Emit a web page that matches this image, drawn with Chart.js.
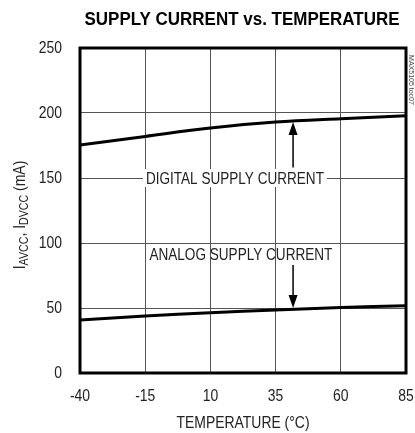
<!DOCTYPE html>
<html>
<head>
<meta charset="utf-8">
<script src="https://cdn.jsdelivr.net/npm/chart.js@4/dist/chart.umd.min.js"></script>
<style>
  html, body { margin: 0; padding: 0; background: #fff; }
  #wrap { width: 415px; height: 433px; }
</style>
</head>
<body>
<div id="wrap"><canvas id="chart" width="415" height="433"></canvas></div>
<script>
// Supply current vs temperature.
const temps = [-40, -15, 10, 35, 60, 85];
const digital = [175.4, 182, 188.4, 193, 195.6, 197.8];
const analog = [40.8, 43.8, 46.4, 48.5, 50.4, 51.8];
const xTicks = [-40, -15, 10, 35, 60, 85];
const yTicks = [0, 50, 100, 150, 200, 250];

const sans = "'Liberation Sans', Arial, sans-serif";
const SQ = 0.82; // horizontal squeeze to fake the condensed face

// draw text squeezed horizontally; width = target width if given
function narrowText(ctx, text, x, y, font, align, width) {
  ctx.save();
  ctx.font = font;
  const w = ctx.measureText(text).width;
  const k = width ? width / w : SQ;
  ctx.translate(x, y);
  ctx.scale(k, 1);
  ctx.textAlign = align;
  ctx.fillText(text, 0, 0);
  ctx.restore();
  return w * k;
}

const decor = {
  id: "decor",
  afterDraw(chart) {
    const { ctx, chartArea: a, scales: { x, y } } = chart;
    ctx.save();
    ctx.textBaseline = "middle";
    ctx.fillStyle = "#000";
    narrowText(ctx, "SUPPLY CURRENT vs. TEMPERATURE", 242, 20, `bold 19px ${sans}`, "center", 315);

    // plot frame
    ctx.lineWidth = 3;
    ctx.strokeStyle = "#000";
    ctx.strokeRect(a.left, a.top, a.right - a.left, a.bottom - a.top);

    // tick labels
    ctx.fillStyle = "#222";
    xTicks.forEach((v) => narrowText(ctx, String(v), x.getPixelForValue(v), 396, `17px ${sans}`, "center"));
    yTicks.forEach((v) => narrowText(ctx, String(v), 62, y.getPixelForValue(v), `17px ${sans}`, "right"));
    narrowText(ctx, "TEMPERATURE (°C)", 243, 423, `17px ${sans}`, "center");

    // curve labels + arrows
    const dx = x.getPixelForValue(19.4), dy = y.getPixelForValue(150);
    ctx.fillStyle = "#fff";
    ctx.fillRect(dx - 92, dy - 9, 184, 18);
    ctx.fillStyle = "#222";
    narrowText(ctx, "DIGITAL SUPPLY CURRENT", dx, dy + 1, `17px ${sans}`, "center", 178);
    narrowText(ctx, "ANALOG SUPPLY CURRENT", x.getPixelForValue(21.7), y.getPixelForValue(91) + 1, `17px ${sans}`, "center", 183);

    const ax = x.getPixelForValue(41.7);
    const arrow = (y0, y1) => {
      const dir = Math.sign(y1 - y0);
      ctx.strokeStyle = "#000";
      ctx.lineWidth = 1.5;
      ctx.beginPath();
      ctx.moveTo(ax, y0);
      ctx.lineTo(ax, y1 - dir * 10);
      ctx.stroke();
      ctx.fillStyle = "#000";
      ctx.beginPath();
      ctx.moveTo(ax, y1);
      ctx.lineTo(ax - 4.5, y1 - dir * 13);
      ctx.lineTo(ax + 4.5, y1 - dir * 13);
      ctx.closePath();
      ctx.fill();
    };
    arrow(y.getPixelForValue(158), y.getPixelForValue(193));
    arrow(y.getPixelForValue(83), y.getPixelForValue(50));

    // y axis title with subscripts
    ctx.translate(19, 215);
    ctx.rotate(-Math.PI / 2);
    ctx.scale(SQ, 1);
    ctx.fillStyle = "#222";
    ctx.textAlign = "left";
    ctx.textBaseline = "alphabetic";
    const parts = [["I", 0], ["AVCC", 1], [", I", 0], ["DVCC", 1], [" (mA)", 0]];
    let total = 0;
    for (const [t, sub] of parts) {
      ctx.font = `${sub ? 13 : 17}px ${sans}`;
      total += ctx.measureText(t).width;
    }
    let px = -total / 2;
    for (const [t, sub] of parts) {
      ctx.font = `${sub ? 13 : 17}px ${sans}`;
      ctx.fillText(t, px, sub ? 9 : 6);
      px += ctx.measureText(t).width;
    }
    ctx.restore();

    // part code on right edge
    ctx.save();
    ctx.translate(411, 80);
    ctx.rotate(Math.PI / 2);
    ctx.font = `7px ${sans}`;
    ctx.fillStyle = "#444";
    ctx.textAlign = "center";
    ctx.textBaseline = "middle";
    ctx.fillText("MAX5105 toc07", 0, 0);
    ctx.restore();
  },
};

const line = (data) => ({
  data: temps.map((t, i) => ({ x: t, y: data[i] })),
  borderColor: "#000",
  borderWidth: 3,
  pointRadius: 0,
  tension: 0.35,
  fill: false,
});

new Chart(document.getElementById("chart"), {
  type: "line",
  data: { datasets: [line(digital), line(analog)] },
  options: {
    responsive: false,
    animation: false,
    layout: { padding: { top: 48, right: 9, left: 0, bottom: 0 } },
    plugins: { legend: { display: false }, tooltip: { enabled: false } },
    scales: {
      x: {
        type: "linear",
        min: -40,
        max: 85,
        afterBuildTicks: (s) => { s.ticks = xTicks.map((v) => ({ value: v })); },
        afterFit: (s) => { s.height = 60; },
        grid: { color: "#555", lineWidth: 1, drawTicks: false },
        border: { display: false },
        ticks: { display: false },
      },
      y: {
        min: 0,
        max: 250,
        afterBuildTicks: (s) => { s.ticks = yTicks.map((v) => ({ value: v })); },
        afterFit: (s) => { s.width = 80; },
        grid: { color: "#555", lineWidth: 1, drawTicks: false },
        border: { display: false },
        ticks: { display: false },
      },
    },
  },
  plugins: [decor],
});
</script>
</body>
</html>
